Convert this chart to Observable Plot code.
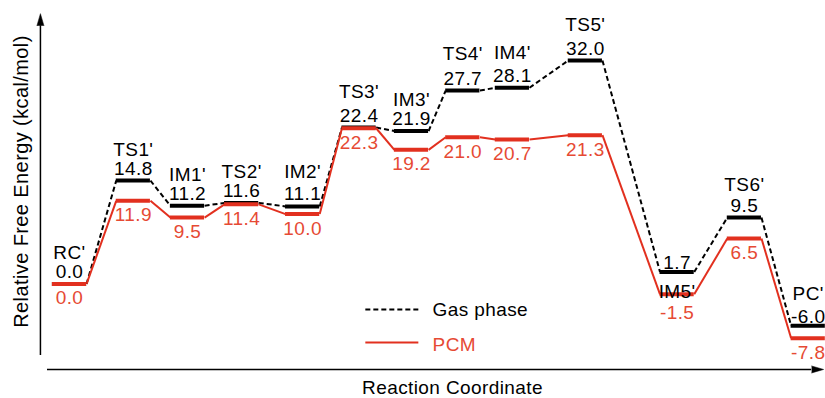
<!DOCTYPE html>
<html><head><meta charset="utf-8">
<script src="https://cdn.jsdelivr.net/npm/d3@7"></script>
<script src="https://cdn.jsdelivr.net/npm/@observablehq/plot@0.6"></script>
<style>
html,body{margin:0;padding:0;background:#fff;}
#chart svg text{letter-spacing:0.4px;}
</style></head><body><div id="chart"></div>
<script>
// ---- data ----
const states = ["RC'", "TS1'", "IM1'", "TS2'", "IM2'", "TS3'", "IM3'", "TS4'", "IM4'", "TS5'", "IM5'", "TS6'", "PC'"];
const coord  = [0, 1.12, 2.07, 3.02, 4.09, 5.08, 6.0, 6.9, 7.77, 9.05, 10.66, 11.84, 12.96];
const gas    = [0.0, 14.8, 11.2, 11.6, 11.1, 22.4, 21.9, 27.7, 28.1, 32.0, 1.7, 9.5, -6.0];
const pcm    = [0.0, 11.9, 9.5, 11.4, 10.0, 22.3, 19.2, 21.0, 20.7, 21.3, -1.5, 6.5, -7.8];
const seriesNames = ["Gas phase", "PCM"];
const xTitle = "Reaction Coordinate";
const yTitle = "Relative Free Energy (kcal/mol)";

// ---- layout / style ----
const HALF = 0.3;
const BLACK = "#000", RED = "#e2301f", RED_TEXT = "#e64a34";
const nameDy = {"RC'": -25, "TS1'": -25, "IM1'": -25, "TS2'": -25, "IM2'": -28, "TS3'": -30, "IM3'": -25,
                "TS4'": -31, "IM4'": -29, "TS5'": -30, "TS6'": -27, "PC'": -26};
const valueDy = {"IM5'": -3, "PC'": -3};
const redDy = {"IM5'": 11};

const rows = states.map((s, i) => ({state: s, c: coord[i], gas: gas[i], pcm: pcm[i]}));
const links = key => rows.slice(1).map((r, i) => ({x1: rows[i].c + HALF, y1: rows[i][key], x2: r.c - HALF, y2: r[key]}));

const axisX = -0.51, axisXmin = -10.26, axisXtop = 37.0;
const axisY = -12.26, axisYleft = -0.386, axisYright = 13.02;
const legendX1 = 5.19, legendX2 = 6.12, legendText = 6.37;
const legendRows = [{name: seriesNames[0], y: -3.67, color: BLACK, dash: "5,3", dy: 0},
                    {name: seriesNames[1], y: -8.4, color: RED, dash: null, dy: 2}];

const marks = [
  // axes
  Plot.ruleX([axisX], {x: d => d, y1: axisXmin, y2: axisXtop, stroke: BLACK, strokeWidth: 1.5}),
  Plot.ruleY([axisY], {y: d => d, x1: axisYleft, x2: axisYright, stroke: BLACK, strokeWidth: 1.5}),
  Plot.vector([0], {x: axisX, y: axisXtop, length: 12, r: 3.5, rotate: 0, shape: "spike", anchor: "start", fill: BLACK, stroke: BLACK, strokeWidth: 0.5}),
  Plot.vector([0], {x: axisYright, y: axisY, length: 12, r: 3.5, rotate: 90, shape: "spike", anchor: "start", fill: BLACK, stroke: BLACK, strokeWidth: 0.5}),
  // connectors
  Plot.link(links("gas"), {x1: "x1", y1: "y1", x2: "x2", y2: "y2", stroke: BLACK, strokeWidth: 2, strokeDasharray: "5,3"}),
  Plot.link(links("pcm"), {x1: "x1", y1: "y1", x2: "x2", y2: "y2", stroke: RED, strokeWidth: 2}),
  // levels
  Plot.ruleY(rows, {y: "gas", x1: d => d.c - HALF, x2: d => d.c + HALF, stroke: BLACK, strokeWidth: 4}),
  Plot.ruleY(rows, {y: "pcm", x1: d => d.c - HALF, x2: d => d.c + HALF, stroke: RED, strokeWidth: 4}),
  // legend
  ...legendRows.map(l => Plot.link([l], {x1: legendX1, x2: legendX2, y1: "y", y2: "y", stroke: l.color, strokeWidth: 2, strokeDasharray: l.dash})),
  ...legendRows.map(l => Plot.text([l], {x: legendText, y: "y", text: "name", textAnchor: "start", lineAnchor: "middle", dy: l.dy, fill: l.color === RED ? RED_TEXT : BLACK})),
  // titles
  Plot.text([xTitle], {text: d => d, frameAnchor: "bottom", dx: 39.5, dy: -5, lineAnchor: "bottom", fill: BLACK}),
  Plot.text([yTitle], {text: d => d, frameAnchor: "left", dx: 21, dy: -18, rotate: -90, textAnchor: "middle", lineAnchor: "middle", fontSize: 20, fill: BLACK})
];
// values and state names
for (const r of rows) {
  marks.push(Plot.text([r], {x: "c", y: "pcm", text: d => d.pcm.toFixed(1), lineAnchor: "top", dy: redDy[r.state] ?? 7, fill: RED_TEXT}));
  marks.push(Plot.text([r], {x: "c", y: "gas", text: d => d.gas.toFixed(1), lineAnchor: "bottom", dy: valueDy[r.state] ?? -6, fill: BLACK}));
  if (r.state === "IM5'") {
    marks.push(Plot.text([r], {x: "c", y: "gas", text: "state", lineAnchor: "top", dy: 12, fill: BLACK}));
  } else {
    marks.push(Plot.text([r], {x: "c", y: "gas", text: "state", lineAnchor: "bottom", dy: nameDy[r.state], fill: BLACK}));
  }
}

const chart = Plot.plot({
  width: 825, height: 398,
  marginLeft: 0, marginRight: 0, marginTop: 0, marginBottom: 0,
  x: {domain: [-69 / 57, 756 / 57], axis: null},
  y: {domain: [-16.42, 40.6], axis: null},
  style: {fontFamily: "'Liberation Sans', Arial, sans-serif", fontSize: "19px", background: "#fff", color: "#000"},
  marks
});
document.getElementById("chart").appendChild(chart);
</script></body></html>
